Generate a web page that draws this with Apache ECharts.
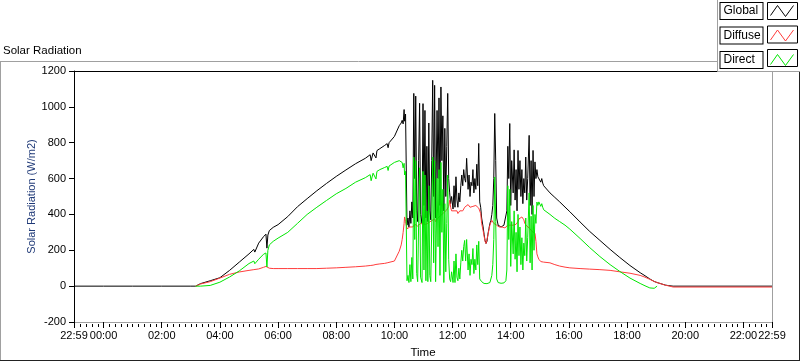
<!DOCTYPE html>
<html><head><meta charset="utf-8">
<script src="https://cdn.jsdelivr.net/npm/echarts@6/dist/echarts.min.js"></script>
<style>html,body{margin:0;padding:0;background:#fff}#c{width:800px;height:361px}</style>
</head><body><div id="c"></div>
<script>
// time in minutes after 00:00 (22:59 of previous day = -61)
const timeMin = [
-61,0,60,120,180,190,
200,220,240,260,280,300,310,312,320,330,335,337,339,342,350,360,380,400,420,440,460,480,500,520,540,550,552,556,560,562,564,570,580,585,587,589,590,600,610,614,616,618,620,621,623,
626,628,630,632,634,636,638,640,642,644,
646,648,650,652,654,657,659,661,663,665,
667,669,671,673,675,677,679,681,683,685,
688,690,692,694,696,698,700,702,704,706,
708,710,712,714,716,718,721,723,725,727,
729,731,733,735,737,739,741,743,745,747,
749,752,754,756,758,760,762,764,766,768,
770,772,774,776,778,780,783,785,787,789,
791,793,795,797,799,801,803,805,807,809,
811,814,816,818,820,822,824,826,828,830,
832,834,836,838,840,842,845,847,849,851,
853,855,857,859,861,863,865,867,869,871,
873,875,878,880,882,884,886,888,890,892,
894,896,898,900,902,904,906,908,
921,931,941,952,962,983,1003,1024,1045,1065,1086,1107,1117,1127,1136,1142,1148,1159,1165,1169,1175,1379
];
const globalVals = [
0,0,0,0,0,0,
14,30,47,88,134,180,205,190,240,276,290,212,285,310,328,343,388,443,488,532,573,612,648,683,713,733,700,743,747,715,756,767,785,795,772,800,805,835,895,910,925,905,985,920,960,
340,380,330,420,350,470,380,1075,600,1060,
420,360,700,1020,400,350,1018,450,980,380,
780,360,910,420,370,700,1148,500,1120,380,
980,600,1050,450,1111,700,950,420,880,500,
780,1075,600,520,460,500,430,560,440,610,
480,440,520,470,560,620,560,650,600,580,
713,540,620,500,580,560,650,520,600,540,
680,560,796,470,440,380,330,290,255,238,
250,290,320,350,365,400,450,600,963,700,
380,340,330,335,330,335,330,340,335,350,
420,780,600,907,450,700,520,760,480,650,
420,757,540,700,500,650,460,600,520,720,
480,600,841,450,700,400,757,500,693,600,
650,610,620,600,580,600,575,560,
520,495,470,441,415,358,305,255,205,160,115,75,58,40,26,20,15,6,3,2,0,0
];
const diffuseVals = [
null,null,null,null,null,0,
12,25,45,66,79,88,92,92,96,105,110,116,105,100,98,98,98,98,98,98,100,102,105,108,112,115,115,117,120,121,122,124,127,130,132,134,135,140,195,230,260,300,350,386,360,
320,315,320,330,335,340,330,340,345,345,
340,335,340,345,350,340,345,355,350,345,
350,340,355,360,350,365,370,360,375,360,
370,380,385,390,395,400,405,410,415,420,
425,430,445,479,440,420,415,420,425,430,
420,405,410,420,430,425,420,430,440,445,
450,455,445,440,435,440,445,450,455,450,
445,440,435,430,405,350,310,280,250,238,
248,285,315,340,355,367,360,350,345,345,
340,335,330,330,325,330,322,325,325,330,
335,340,340,345,340,345,340,345,340,345,
350,360,375,385,386,386,380,370,350,340,
335,330,325,320,315,305,300,300,295,250,
180,163,150,140,137,136,135,134,
130,120,112,106,102,98,95,92,88,80,72,60,50,38,26,20,15,5,2,-5,-5,-5
];
const directVals = [
null,null,null,null,null,0,
0,4,22,51,85,126,140,125,150,178,185,107,200,230,250,268,300,350,400,440,478,515,545,580,605,622,588,630,632,598,640,650,662,668,645,670,673,690,700,700,690,660,685,620,640,
30,60,20,120,25,160,40,720,260,700,
70,25,350,660,50,20,640,90,620,30,
420,25,560,60,25,330,720,130,700,25,
600,220,650,60,690,300,540,20,460,80,
350,620,150,40,25,80,20,140,20,180,
50,30,100,40,130,200,140,220,255,140,
260,90,180,60,150,120,210,70,150,90,
230,120,250,40,30,25,20,15,14,14,
14,15,18,20,25,60,120,260,609,360,
40,20,18,16,16,17,16,18,20,30,
90,560,260,540,110,360,180,420,150,300,
80,400,170,330,120,270,90,240,170,380,
140,270,520,130,390,90,450,200,400,350,
469,450,470,460,445,460,440,426,
400,378,360,340,318,266,215,165,120,82,45,15,2,-10,-12,0,null,null,null,null,null,null
];
const seriesNames = ['Global','Diffuse','Direct'];
const seriesColors = ['#000000','#ff3c3c','#00e600'];
const majorTicks = [-61,0,120,240,360,480,600,720,840,960,1080,1200,1320,1379];

function fmt(m){
  const mm = ((Math.round(m) % 1440) + 1440) % 1440;
  const h = Math.floor(mm/60), n = mm % 60;
  return String(h).padStart(2,'0') + ':' + String(n).padStart(2,'0');
}
const minorTicks = [];
for (let m = -48; m < 1379; m += 12) { if (m % 120 !== 0) minorTicks.push(m); }
function pairs(vals){ return timeMin.map((t,i) => [t, vals[i]]); }

const FONT = 'Liberation Sans, Arial, sans-serif';
const chart = echarts.init(document.getElementById('c'), null, {renderer:'canvas'});
const baseSeries = {type:'line', showSymbol:false, symbol:'none', silent:true, xAxisIndex:0, yAxisIndex:0, connectNulls:false, emphasis:{disabled:true}};
const legendTop = 2, itemH = 17, gap = 6.5;
const option = {
  animation:false,
  textStyle:{fontFamily:FONT},
  title:{text:'Solar Radiation', left:3, top:45, padding:0, textStyle:{fontSize:11.5, fontWeight:'normal', color:'#000', fontFamily:FONT}},
  legend:{
    orient:'vertical', right:3, top:legendTop, padding:0, itemGap:gap, align:'right',
    itemWidth:29, itemHeight:itemH, selectedMode:false, z:10,
    icon:'path://M0,0 M29,17 M3,13 L10,3 L18,14 L26,3',
    data:seriesNames.map((n,i) => ({name:n, itemStyle:{color:'rgba(0,0,0,0)', borderColor:seriesColors[i], borderWidth:1}})),
    formatter: n => '{a|' + n + '}',
    textStyle:{fontFamily:FONT, fontSize:12, color:'#000',
      rich:{a:{fontFamily:FONT, fontSize:12, color:'#000', width:36, lineHeight:13, padding:[2,3,2,3], align:'left', borderColor:'#000', borderWidth:1, backgroundColor:'#fff'}}}
  },
  grid:{left:74, right:28, top:71, bottom:39, containLabel:false, outerBoundsMode:'none'},
  xAxis:[
    {type:'value', min:-61, max:1379, position:'bottom', name:'Time', nameLocation:'middle', nameGap:25, nameMoveOverlap:false,
     nameTextStyle:{fontSize:11.5, color:'#000', fontFamily:FONT},
     axisLine:{show:true, onZero:false, lineStyle:{color:'#a0a0a0', width:1}},
     axisTick:{show:true, length:6, customValues:majorTicks, lineStyle:{color:'#000'}},
     axisLabel:{customValues:majorTicks, formatter:v => fmt(v), fontSize:11, color:'#000', margin:8, fontFamily:FONT},
     splitLine:{show:false}},
    {type:'value', min:-61, max:1379, position:'bottom', offset:2,
     axisLine:{show:false, onZero:false}, axisTick:{show:true, length:3, customValues:minorTicks, lineStyle:{color:'#000'}},
     axisLabel:{show:false}, splitLine:{show:false}},
    {type:'value', min:-61, max:1379, position:'top',
     axisLine:{show:true, onZero:false, lineStyle:{color:'#000'}}, axisTick:{show:false}, axisLabel:{show:false}, splitLine:{show:false}}
  ],
  yAxis:[
    {type:'value', min:-200, max:1200, interval:200, name:'Solar Radiation (W/m2)', nameLocation:'middle', nameGap:37, nameMoveOverlap:false,
     nameTextStyle:{fontSize:11, color:'#203a78', fontFamily:FONT},
     axisLine:{show:true, onZero:false, lineStyle:{color:'#000'}},
     axisTick:{show:true, length:5, lineStyle:{color:'#000'}},
     axisLabel:{fontSize:11, color:'#000', margin:8, fontFamily:FONT, formatter:v => String(v)}, splitLine:{show:false}},
    {type:'value', min:-200, max:1200, position:'right',
     axisLine:{show:true, onZero:false, lineStyle:{color:'#a0a0a0'}}, axisTick:{show:false}, axisLabel:{show:false}, splitLine:{show:false}}
  ],
  graphic:[
    {type:'line', shape:{x1:0, y1:61.5, x2:717, y2:61.5}, style:{stroke:'#a0a0a0', lineWidth:1}, z:1, silent:true},
    {type:'line', shape:{x1:0.5, y1:61.5, x2:0.5, y2:361}, style:{stroke:'#a0a0a0', lineWidth:1}, z:1, silent:true},
    {type:'line', shape:{x1:0, y1:360.5, x2:800, y2:360.5}, style:{stroke:'#222', lineWidth:1}, z:1, silent:true},
    {type:'line', shape:{x1:799.5, y1:72, x2:799.5, y2:361}, style:{stroke:'#222', lineWidth:1}, z:1, silent:true},
    {type:'rect', shape:{x:717.5, y:-2, width:90, height:73.5}, style:{fill:'#fff', stroke:'#a0a0a0', lineWidth:1}, z:3, silent:true},
    {type:'rect', shape:{x:767.5, y:legendTop+0.5, width:30, height:itemH}, style:{fill:'none', stroke:'#000', lineWidth:1}, z:20, silent:true},
    {type:'rect', shape:{x:767.5, y:legendTop+itemH+gap+0.5, width:30, height:itemH}, style:{fill:'none', stroke:'#000', lineWidth:1}, z:20, silent:true},
    {type:'rect', shape:{x:767.5, y:legendTop+2*(itemH+gap)+0.5, width:30, height:itemH}, style:{fill:'none', stroke:'#000', lineWidth:1}, z:20, silent:true}
  ],
  series:[
    Object.assign({}, baseSeries, {name:seriesNames[0], data:pairs(globalVals), color:seriesColors[0], lineStyle:{color:seriesColors[0], width:1}}),
    Object.assign({}, baseSeries, {name:seriesNames[1], data:pairs(diffuseVals), color:seriesColors[1], lineStyle:{color:seriesColors[1], width:1}}),
    Object.assign({}, baseSeries, {name:seriesNames[2], data:pairs(directVals), color:seriesColors[2], lineStyle:{color:seriesColors[2], width:1}})
  ]
};
chart.setOption(option);
</script>
</body></html>
